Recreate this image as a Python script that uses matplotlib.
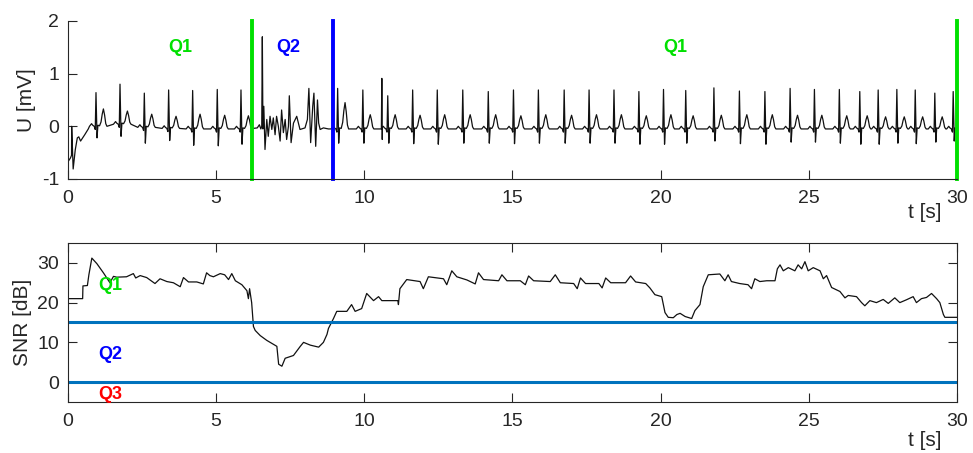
import numpy as np
import matplotlib
matplotlib.use("Agg")
import matplotlib.pyplot as plt

plt.rcParams['font.family'] = ['Liberation Sans', 'DejaVu Sans']
plt.rcParams['axes.unicode_minus'] = False

# ---------------- ECG data ----------------
# beat R-peak times [s]
beat_t = [0.96, 1.77, 2.59, 3.41, 4.22, 5.05, 5.85,
          9.11, 9.96, 10.80, 11.64, 12.47, 13.33, 14.19, 15.04, 15.88,
          16.75, 17.59, 18.43, 19.27, 20.10, 20.85, 21.80, 22.66, 23.52,
          24.37, 25.19, 26.03, 26.72, 27.34, 27.97, 28.59, 29.25, 29.87]
# R peak value [mV]
beat_r = [0.64, 0.80, 0.63, 0.69, 0.68, 0.70, 0.69,
          0.72, 0.69, 0.58, 0.69, 0.69, 0.69, 0.66, 0.69, 0.69,
          0.69, 0.69, 0.69, 0.66, 0.70, 0.68, 0.73, 0.67, 0.66,
          0.72, 0.70, 0.70, 0.66, 0.69, 0.70, 0.69, 0.63, 0.66]
# S trough value [mV]
beat_s = [-0.22, -0.19, -0.32, -0.27, -0.36, -0.37, -0.34,
          -0.32, -0.32, -0.32, -0.33, -0.34, -0.32, -0.32, -0.33, -0.32,
          -0.32, -0.32, -0.32, -0.34, -0.34, -0.32, -0.28, -0.33, -0.34,
          -0.30, -0.30, -0.32, -0.34, -0.34, -0.32, -0.33, -0.30, -0.28]
# T wave peak value [mV]
beat_tw = [0.33, 0.29, 0.23, 0.19, 0.23, 0.21, 0.20,
           0.45, 0.22, 0.22, 0.21, 0.22, 0.22, 0.22, 0.20, 0.22,
           0.21, 0.22, 0.22, 0.20, 0.22, 0.20, 0.21, 0.22, 0.22,
           0.21, 0.21, 0.20, 0.20, 0.18, 0.18, 0.18, 0.18, 0.19]
# isoelectric baseline around each beat [mV]
beat_base = [0.00, 0.04, -0.02, -0.04, -0.05, -0.05, -0.05,
             -0.05, -0.05, -0.05, -0.05, -0.05, -0.05, -0.05, -0.05, -0.05,
             -0.05, -0.05, -0.05, -0.05, -0.05, -0.05, -0.05, -0.05, -0.05,
             -0.05, -0.05, -0.05, -0.05, -0.05, -0.05, -0.05, -0.05, -0.05]

# initial baseline wander
start_t = [0.0, 0.03, 0.10, 0.135, 0.14, 0.19, 0.26, 0.33, 0.38, 0.44, 0.58, 0.70]
start_v = [-0.42, -0.66, -0.60, -0.55, 0.0, -0.81, -0.45, -0.22, -0.20, -0.28, -0.16, -0.05]

# noisy (Q2) segment
noise_t = [6.26, 6.40, 6.47, 6.52, 6.55, 6.57, 6.59, 6.62, 6.66, 6.72, 6.77, 6.83,
           6.89, 6.94, 7.00, 7.05, 7.11, 7.17, 7.22, 7.28, 7.34, 7.39, 7.45,
           7.48, 7.54, 7.62, 7.73, 7.84, 8.01, 8.09, 8.14, 8.20, 8.27, 8.31,
           8.37, 8.43, 8.47, 8.52, 8.63, 8.80]
noise_v = [-0.04, -0.03, 0.03, -0.05, 0.0, 1.70, -0.05, 0.38, -0.44, 0.13, -0.19, 0.19,
           -0.06, 0.16, -0.16, 0.19, 0.0, -0.28, 0.31, -0.12, 0.13, -0.25, 0.0,
           0.58, -0.31, 0.06, 0.19, -0.06, -0.03, 0.13, 0.72, -0.31, 0.38, 0.63,
           -0.38, 0.50, 0.06, -0.06, -0.03, -0.05]

# artifact spike near 10.6 s
spike_t = [10.585, 10.60, 10.615]
spike_v = [-0.05, 0.91, -0.25]

# ---------------- SNR data ----------------
snr_t = [0.0, 0.51, 0.52, 0.67, 0.72, 0.82, 0.99, 1.21, 1.43, 1.55, 1.66, 1.99, 2.22, 2.30,
         2.45, 2.67, 2.95, 3.12, 3.35, 3.57, 3.80, 3.91, 4.08, 4.36, 4.58, 4.69, 4.80,
         4.92, 5.15, 5.30, 5.43, 5.54, 5.66, 5.88, 6.05, 6.10, 6.14, 6.21, 6.27, 6.33,
         6.50, 6.72, 7.06, 7.12, 7.23, 7.34, 7.62, 7.85, 7.96, 8.19, 8.47, 8.63, 8.75,
         8.80, 8.97, 9.08, 9.42, 9.58, 9.70, 9.92, 10.09, 10.32, 10.49, 10.60, 11.14,
         11.16, 11.21, 11.44, 11.89, 12.00, 12.17, 12.68, 12.79, 12.96, 13.13, 13.47,
         13.75, 13.86, 14.03, 14.54, 14.65, 14.82, 15.27, 15.44, 15.55, 15.72, 16.28,
         16.45, 16.62, 17.07, 17.19, 17.30, 17.47, 17.92, 18.03, 18.15, 18.32, 18.82,
         18.99, 19.16, 19.50, 19.64, 19.81, 20.04, 20.15, 20.26, 20.43, 20.55, 20.66,
         20.83, 21.05, 21.16, 21.33, 21.44, 21.61, 22.00, 22.17, 22.28, 22.39, 22.67,
         22.95, 23.07, 23.18, 23.35, 23.58, 23.86, 23.94, 24.03, 24.14, 24.31, 24.53,
         24.64, 24.76, 24.87, 24.98, 25.15, 25.38, 25.49, 25.60, 25.77, 26.05, 26.22,
         26.33, 26.61, 26.78, 26.89, 27.06, 27.28, 27.51, 27.68, 27.90, 28.07, 28.29,
         28.52, 28.63, 28.80, 28.97, 29.14, 29.31, 29.42, 29.54, 29.59, 30.0]
snr_v = [21.0, 21.0, 24.2, 24.3, 27.0, 31.2, 29.8, 27.5, 25.0, 26.6, 26.4, 26.5, 27.3, 26.2,
         26.8, 26.3, 24.8, 26.0, 25.3, 25.0, 24.0, 26.3, 25.2, 25.2, 24.7, 27.5, 26.8,
         26.5, 27.3, 27.0, 25.8, 27.3, 25.5, 24.5, 23.0, 21.0, 23.5, 20.0, 14.0, 13.0,
         11.7, 10.5, 9.0, 4.5, 4.0, 6.0, 6.7, 9.0, 10.0, 9.3, 8.8, 10.0, 12.0,
         13.5, 16.0, 17.8, 17.8, 19.5, 17.8, 18.5, 22.3, 20.5, 21.5, 20.5, 20.5,
         19.5, 23.5, 25.8, 25.3, 23.5, 26.5, 26.0, 24.5, 28.0, 26.5, 25.7,
         24.7, 27.5, 25.8, 25.5, 27.0, 25.5, 25.5, 24.5, 26.7, 25.5, 25.3,
         27.0, 25.0, 24.8, 23.5, 26.2, 24.8, 24.8, 23.7, 26.2, 25.0, 25.0,
         26.7, 25.2, 24.8, 23.7, 22.0, 21.5, 17.5, 16.3, 16.2, 17.0, 17.3,
         16.5, 16.0, 18.0, 19.5, 24.0, 27.0, 27.2, 25.5, 27.0, 25.3, 24.8,
         24.5, 23.5, 26.0, 25.3, 25.5, 25.5, 28.5, 29.5, 28.0, 28.8, 28.0,
         29.5, 28.5, 30.3, 28.0, 28.8, 28.0, 26.0, 26.8, 23.8, 22.8, 21.2,
         21.8, 21.5, 20.0, 19.2, 20.5, 20.0, 20.8, 19.8, 21.2, 20.0, 20.7,
         21.5, 20.0, 21.0, 21.3, 22.3, 21.0, 20.0, 17.0, 16.3, 16.3]

region_t = [6.21, 8.97, 30.0]
region_c = ['#00E000', '#0000FF', '#00E000']
snr_thr = [15, 0]

# ---------------- build ECG polyline ----------------
pts = list(zip(start_t, start_v)) + list(zip(noise_t, noise_v)) + list(zip(spike_t, spike_v))
for tb, r, s, tw, b in zip(beat_t, beat_r, beat_s, beat_tw, beat_base):
    h = tw - b
    shape = [(-0.22, b), (-0.18, b + 0.03), (-0.15, b + 0.05), (-0.11, b + 0.02),
             (-0.06, b), (-0.025, b - 0.06), (0.0, r), (0.035, s), (0.065, b + 0.02),
             (0.12, b + 0.01), (0.17, b + 0.25 * h), (0.21, b + 0.7 * h), (0.25, b + h),
             (0.29, b + 0.65 * h), (0.33, b + 0.15 * h), (0.37, b)]
    pts += [(tb + dt, v) for dt, v in shape]
pts.sort(key=lambda p: p[0])
pts = [p for p in pts if 0 <= p[0] <= 30]
ecg_t = [p[0] for p in pts]
ecg_v = [p[1] for p in pts]

# ---------------- figure ----------------
axcol = '#262626'
fig = plt.figure(figsize=(9.73, 4.53), dpi=100)
ax1 = fig.add_axes([0.0694, 0.6049, 0.9142, 0.3488])
ax2 = fig.add_axes([0.0694, 0.1126, 0.9142, 0.3510])

ax1.plot(ecg_t, ecg_v, color='#111111', lw=0.9)
for t, c in zip(region_t, region_c):
    ax1.axvline(t, color=c, lw=2.8, clip_on=False)
ax1.text(3.8, 1.5, 'Q1', color='#00E000', fontsize=13, fontweight='bold', ha='center', va='center')
ax1.text(7.44, 1.5, 'Q2', color='#0000FF', fontsize=13, fontweight='bold', ha='center', va='center')
ax1.text(20.5, 1.5, 'Q1', color='#00E000', fontsize=13, fontweight='bold', ha='center', va='center')
ax1.set_xlim(0, 30)
ax1.set_ylim(-1, 2)
ax1.set_yticks([-1, 0, 1, 2])
ax1.set_xticks([0, 5, 10, 15, 20, 25, 30])
ax1.spines['top'].set_visible(False)
ax1.spines['right'].set_visible(False)
ax1.set_ylabel('U [mV]', fontsize=15, color=axcol)
ax1.set_xlabel('t [s]', fontsize=15, color=axcol)
ax1.xaxis.set_label_coords(0.964, -0.15)

ax2.plot(snr_t, snr_v, color='#111111', lw=0.9)
for y in snr_thr:
    ax2.axhline(y, color='#0072BD', lw=2.2)
ax2.text(1.05, 24.4, 'Q1', color='#00E000', fontsize=13, fontweight='bold', ha='left', va='center')
ax2.text(1.05, 7.0, 'Q2', color='#0000FF', fontsize=13, fontweight='bold', ha='left', va='center')
ax2.text(1.05, -3.0, 'Q3', color='#FF0000', fontsize=13, fontweight='bold', ha='left', va='center')
ax2.set_xlim(0, 30)
ax2.set_ylim(-5, 35)
ax2.set_yticks([0, 10, 20, 30])
ax2.set_xticks([0, 5, 10, 15, 20, 25, 30])
ax2.set_ylabel('SNR [dB]', fontsize=15, color=axcol)
ax2.set_xlabel('t [s]', fontsize=15, color=axcol)
ax2.xaxis.set_label_coords(0.964, -0.18)

for ax in (ax1, ax2):
    for sp in ax.spines.values():
        sp.set_color(axcol)
        sp.set_linewidth(0.8)
    ax.tick_params(direction='in', length=6.5, width=0.8, colors=axcol,
                   labelsize=14, top=(ax is ax2), right=(ax is ax2))
    ax.tick_params(axis='x', pad=8)
    ax.tick_params(axis='y', pad=6)

fig.savefig('out.png', dpi=100)
